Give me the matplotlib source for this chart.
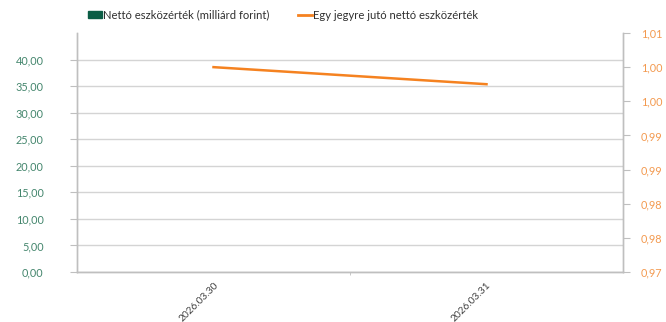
import numpy as np
import matplotlib.pyplot as plt
from matplotlib.patches import Patch
from matplotlib.lines import Line2D
from matplotlib.ticker import FuncFormatter, FixedLocator

plt.rcParams['font.family'] = ['Lato', 'DejaVu Sans']

dates = ['2026.03.30', '2026.03.31']
netto = [0.0, 0.0]                 # nettó eszközérték, milliárd Ft
per_unit = [1.0000, 0.9975]        # egy jegyre jutó nettó eszközérték

green = '#0B5D45'
green_txt = '#44866D'
orange = '#F58220'
orange_txt = '#F39A50'
axis_gray = '#BFBFBF'
grid_gray = '#D4D4D4'

def hu(v, p=None):
    return f'{v + 1e-9:.2f}'.replace('.', ',')

fig = plt.figure(figsize=(6.66, 3.22), dpi=100)
ax = fig.add_axes([77/666, 1 - 272/322, 546/666, 239/322])
ax2 = ax.twinx()

x = np.arange(len(dates))
ax.bar(x, netto, width=0.5, color=green, zorder=2)
ax2.plot(x, per_unit, color=orange, lw=1.8, zorder=3)

ax.set_xlim(-0.5, 1.5)
ax.set_ylim(0, 45)
ax.set_yticks(np.arange(0, 41, 5))
ax.yaxis.set_major_formatter(FuncFormatter(hu))
ax.grid(axis='y', color=grid_gray, lw=1, zorder=0)
ax.set_axisbelow(True)

ax2.set_ylim(0.97, 1.005)
ax2.set_yticks(np.linspace(0.97, 1.005, 8))
ax2.yaxis.set_major_formatter(FuncFormatter(hu))

ax.set_xticks(x)
ax.set_xticklabels(dates, rotation=45, ha='right', rotation_mode='anchor',
                   fontsize=7.3, color='#404040')
ax.xaxis.set_minor_locator(FixedLocator([0.5]))
ax.tick_params(axis='x', which='major', length=0, pad=6)
ax.tick_params(axis='x', which='minor', length=2, color=axis_gray)

ax.tick_params(axis='y', length=5, color=axis_gray, labelsize=7.8,
               labelcolor=green_txt, pad=19)
ax2.tick_params(axis='y', length=5, color=axis_gray, labelsize=7.8,
                labelcolor=orange_txt, pad=8)

for a in (ax, ax2):
    a.spines['top'].set_visible(False)
    for s in ('left', 'right', 'bottom'):
        a.spines[s].set_color(axis_gray)
        a.spines[s].set_linewidth(1)

handles = [Patch(color=green, label='Nettó eszközérték (milliárd forint)'),
           Line2D([], [], color=orange, lw=2,
                  label='Egy jegyre jutó nettó eszközérték')]
fig.legend(handles=handles, loc='center', bbox_to_anchor=(0.425, 0.953),
           ncol=2, frameon=False, fontsize=8.1, handlelength=1.2,
           handleheight=0.6, handletextpad=0.1, columnspacing=2.6,
           labelcolor='#303030')

fig.savefig('out.png', dpi=100)
